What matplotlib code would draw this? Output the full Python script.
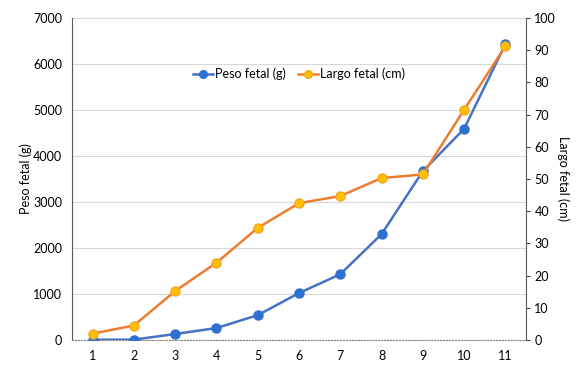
import matplotlib.pyplot as plt

semanas = [1, 2, 3, 4, 5, 6, 7, 8, 9, 10, 11]
peso_g = [5, 8, 130, 260, 540, 1020, 1430, 2300, 3670, 4590, 6430]
largo_cm = [2.0, 4.5, 15.2, 24.0, 34.8, 42.5, 44.7, 50.3, 51.4, 71.5, 91.2]

plt.rcParams['font.family'] = ['Lato', 'DejaVu Sans']

fig, ax = plt.subplots(figsize=(5.8, 3.74), dpi=100)
fig.subplots_adjust(left=72 / 580, right=526 / 580, top=1 - 18 / 374, bottom=1 - 340 / 374)
ax2 = ax.twinx()

l1, = ax.plot(semanas, peso_g, color='#4472C4', lw=1.8, marker='o', ms=6.5,
              mfc='#2E6FD0', mec='#2E6FD0', label='Peso fetal (g)', zorder=3)
l2, = ax2.plot(semanas, largo_cm, color='#ED7D31', lw=1.8, marker='o', ms=6.5,
               mfc='#FFC000', mec='#F5A623', label='Largo fetal (cm)', zorder=3)

ax.set_xlim(0.5, 11.5)
ax.set_ylim(0, 7000)
ax2.set_ylim(0, 100)
ax.set_xticks(semanas)
ax.set_yticks(range(0, 7001, 1000))
ax2.set_yticks(range(0, 101, 10))

ax.grid(axis='y', color='#D9D9D9', lw=0.8)
ax.set_axisbelow(True)

for a in (ax, ax2):
    a.spines['top'].set_visible(False)
    a.tick_params(labelsize=9, colors='#404040', labelcolor='black')
ax.spines['left'].set_color('#595959')
ax.spines['right'].set_visible(False)
ax.spines['bottom'].set_color('#808080')
ax.spines['bottom'].set_linestyle(':')
ax2.spines['left'].set_visible(False)
ax2.spines['bottom'].set_visible(False)
ax2.spines['right'].set_color('#595959')
ax.tick_params(axis='both', length=0, pad=7)
ax2.tick_params(axis='y', length=3, width=0.8, pad=3)

ax.set_ylabel('Peso fetal (g)', fontsize=9, labelpad=1)
ax2.set_ylabel('Largo fetal (cm)', fontsize=9, rotation=270, labelpad=10)

ax2.legend(handles=[l1, l2], loc='upper center', bbox_to_anchor=(0.5, 0.88),
           ncol=2, frameon=False, fontsize=9, handlelength=1.6, handletextpad=0.2,
           columnspacing=0.9, markerscale=0.85)

fig.savefig('out.png')
